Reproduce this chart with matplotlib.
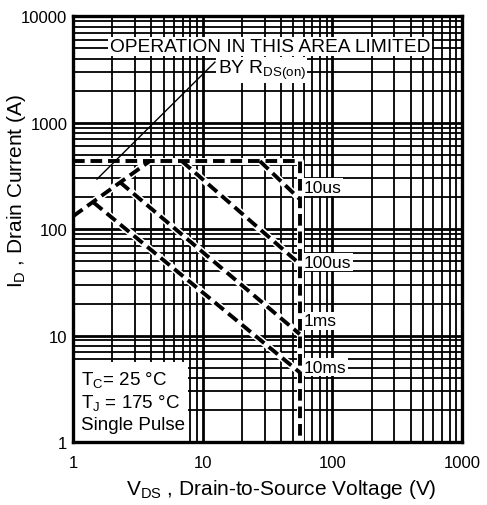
import matplotlib
matplotlib.use("Agg")
import matplotlib.pyplot as plt
from matplotlib.ticker import LogLocator, NullFormatter, FixedLocator, FixedFormatter
from matplotlib.patches import Rectangle

plt.rcParams["font.family"] = ["Liberation Sans", "DejaVu Sans"]
plt.rcParams["mathtext.fontset"] = "custom"
plt.rcParams["mathtext.rm"] = "Liberation Sans"
plt.rcParams["mathtext.it"] = "Liberation Sans"

# --- data (V, A) ---
rds_v = [1.0, 3.9]            # rising R_DS(on) limit
rds_i = [132, 435]
lim_v = [1.0, 56, 56]         # current limit + voltage limit
lim_i = [435, 435, 1]
us10_v = [27.6, 56]
us10_i = [435, 191]
us100_v = [6.9, 56]
us100_i = [435, 47]
ms1_v = [2.3, 56]
ms1_i = [276, 10.3]
ms10_v = [1.43, 56]
ms10_i = [179, 4.5]

curve_labels = ["10us", "100us", "1ms", "10ms"]
label_i = [248, 49, 13.7, 5.06]
label_v = 60

rds_note_v = [1.53, 12.4]
rds_note_i = [295, 3700]

x_ticks = [1, 10, 100, 1000]
x_ticklabels = ["1", "10", "100", "1000"]
y_ticks = [1, 10, 100, 1000, 10000]
y_ticklabels = ["1", "10", "100", "1000", "10000"]

fig = plt.figure(figsize=(4.87, 5.06), dpi=100)
ax = fig.add_axes([0.150, 0.1245, 0.799, 0.8415])
ax.set_xscale("log")
ax.set_yscale("log")
ax.set_xlim(1, 1000)
ax.set_ylim(1, 10000)

ax.xaxis.set_major_locator(FixedLocator(x_ticks))
ax.xaxis.set_major_formatter(FixedFormatter(x_ticklabels))
ax.yaxis.set_major_locator(FixedLocator(y_ticks))
ax.yaxis.set_major_formatter(FixedFormatter(y_ticklabels))
ax.xaxis.set_minor_locator(LogLocator(base=10, subs=range(2, 10), numticks=20))
ax.yaxis.set_minor_locator(LogLocator(base=10, subs=range(2, 10), numticks=20))
ax.xaxis.set_minor_formatter(NullFormatter())
ax.yaxis.set_minor_formatter(NullFormatter())
ax.tick_params(which="both", length=0, labelsize=12)
ax.tick_params(axis="x", pad=9)
ax.tick_params(axis="y", pad=4)

ax.grid(which="major", color="black", lw=2.0)
ax.grid(which="minor", color="black", lw=1.3)
ax.set_axisbelow(True)
for s in ax.spines.values():
    s.set_linewidth(2.4)
    s.set_zorder(10)


def dashed(v, i):
    ax.plot(v, i, color="white", lw=5.0, solid_capstyle="butt", zorder=3)
    ax.plot(v, i, color="black", lw=2.8, dashes=(3.0, 1.5), zorder=4)


for v, i in [(rds_v, rds_i), (lim_v, lim_i), (us10_v, us10_i),
             (us100_v, us100_i), (ms1_v, ms1_i), (ms10_v, ms10_i)]:
    dashed(v, i)

for lab, yi in zip(curve_labels, label_i):
    ax.text(label_v, yi, lab, fontsize=12.5, ha="left", va="center", zorder=6,
            bbox=dict(facecolor="white", edgecolor="none", pad=1.0))

# R_DS(on) annotation
ax.plot(rds_note_v, rds_note_i, color="black", lw=1.0, zorder=5)
ax.text(33, 5200, "OPERATION IN THIS AREA LIMITED", fontsize=13.8,
        ha="center", va="center", zorder=6,
        bbox=dict(facecolor="white", edgecolor="none", pad=1.0))
ax.text(13, 3150, r"BY R$_{\mathregular{DS(on)}}$", fontsize=13.8,
        ha="left", va="center", zorder=6,
        bbox=dict(facecolor="white", edgecolor="none", pad=1.0))

# conditions box
ax.add_patch(Rectangle((0, 0), 0.296, 0.188, transform=ax.transAxes,
                       facecolor="white", edgecolor="none", zorder=5))
ax.text(0.02, 0.147, r"T$_{\mathregular{C}}$= 25 °C", transform=ax.transAxes,
        fontsize=13.5, ha="left", va="center", zorder=6)
ax.text(0.02, 0.093, r"T$_{\mathregular{J}}$ = 175 °C", transform=ax.transAxes,
        fontsize=13.5, ha="left", va="center", zorder=6)
ax.text(0.02, 0.040, "Single Pulse", transform=ax.transAxes,
        fontsize=13.5, ha="left", va="center", zorder=6)

fig.text(0.578, 0.032, r"V$_{\mathregular{DS}}$ , Drain-to-Source Voltage (V)",
         fontsize=15, ha="center", va="center")
fig.text(0.034, 1 - 191 / 506, r"I$_{\mathregular{D}}$ , Drain Current (A)",
         fontsize=15, ha="center", va="center", rotation=90)

fig.savefig("out.png", dpi=100)
